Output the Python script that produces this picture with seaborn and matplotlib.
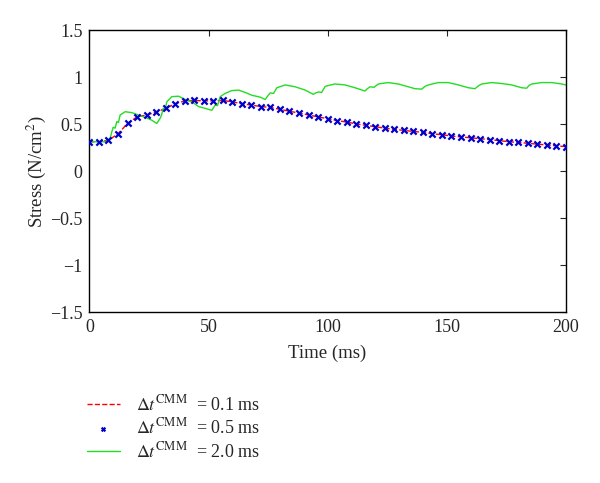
import numpy as np
import pandas as pd
import matplotlib
matplotlib.use("Agg")
import matplotlib.pyplot as plt
import seaborn as sns

# --- Data ---
# dt = 0.1 ms (red dashed) and dt = 0.5 ms (blue x) follow the same curve
t_fine = list(range(0, 201, 4))
stress_fine = [0.315, 0.315, 0.33, 0.40, 0.51, 0.58, 0.60, 0.63, 0.67, 0.72,
               0.75, 0.755, 0.75, 0.75, 0.755, 0.74, 0.72, 0.705, 0.69, 0.68,
               0.66, 0.64, 0.62, 0.60, 0.58, 0.56, 0.54, 0.525, 0.505, 0.49,
               0.475, 0.46, 0.447, 0.436, 0.425, 0.415, 0.40, 0.39, 0.376, 0.367,
               0.357, 0.348, 0.338, 0.327, 0.316, 0.308, 0.299, 0.29, 0.281, 0.272,
               0.263]

# dt = 2.0 ms (green)
t_coarse = [0, 6.6, 8.7, 9.4, 10, 10.8, 11.5, 12.2, 12.9, 15, 17.8, 20.6, 23.4,
            26.2, 28.3, 29.7, 30.3, 31, 31.8, 32.5, 34.6, 37.4, 40.2, 43, 45.8,
            48.6, 51.4, 52.8, 53.8, 54.9, 57, 59.8, 62.6, 65.4, 68.2, 71.7, 73.8,
            74.8, 75.9, 77.3, 78.7, 82.2, 86.4, 90.6, 94, 95, 96.1, 97.5, 99, 103,
            107.3, 111.5, 115.7, 116.7, 117.8, 119.5, 121.3, 125.5, 129.7, 133.9,
            136.7, 139.5, 140.9, 142.3, 146.5, 150.7, 154.9, 159.1, 161.9, 163.3,
            164.7, 168.9, 173.1, 177.3, 181.5, 183.6, 184.6, 185.7, 189.9, 194.1,
            198.3, 200]
stress_coarse = [0.315, 0.315, 0.35, 0.42, 0.47, 0.46, 0.53, 0.52, 0.60, 0.635,
                 0.625, 0.60, 0.575, 0.545, 0.51, 0.565, 0.60, 0.67, 0.66, 0.74,
                 0.795, 0.80, 0.765, 0.74, 0.69, 0.67, 0.65, 0.705, 0.70, 0.795,
                 0.83, 0.86, 0.865, 0.84, 0.81, 0.79, 0.765, 0.80, 0.835, 0.83,
                 0.89, 0.92, 0.90, 0.865, 0.82, 0.835, 0.845, 0.84, 0.905, 0.93,
                 0.92, 0.89, 0.855, 0.88, 0.90, 0.895, 0.93, 0.945, 0.93, 0.90,
                 0.88, 0.875, 0.905, 0.92, 0.945, 0.945, 0.92, 0.89, 0.88, 0.91,
                 0.93, 0.945, 0.935, 0.92, 0.89, 0.885, 0.915, 0.93, 0.945, 0.945,
                 0.93, 0.92]

labels = [r"$\Delta t^{\mathrm{CMM}}$  = 0.1 ms",
          r"$\Delta t^{\mathrm{CMM}}$  = 0.5 ms",
          r"$\Delta t^{\mathrm{CMM}}$  = 2.0 ms"]

# --- Style ---
sns.set_style("white")
plt.rcParams["font.family"] = ["Liberation Serif", "DejaVu Serif"]
plt.rcParams["mathtext.fontset"] = "stix"
plt.rcParams["font.size"] = 13

fig = plt.figure(figsize=(6, 4.83), dpi=100)
ax = fig.add_axes([0.149, 0.3534, 0.794, 0.5836])

fine = pd.DataFrame({"t": t_fine, "s": stress_fine})
coarse = pd.DataFrame({"t": t_coarse, "s": stress_coarse})

sns.lineplot(data=fine, x="t", y="s", ax=ax, color="red", linestyle="--",
             linewidth=1.0, label=labels[0])
sns.scatterplot(data=fine, x="t", y="s", ax=ax, color="#0000cc", marker="x",
                s=20, linewidth=1.6, label=labels[1], zorder=3)
sns.lineplot(data=coarse, x="t", y="s", ax=ax, color="#22dd22",
             linewidth=1.0, label=labels[2])

ax.set_xlim(0, 200)
ax.set_ylim(-1.5, 1.5)
ax.set_xticks([0, 50, 100, 150, 200])
ax.set_yticks([-1.5, -1, -0.5, 0, 0.5, 1, 1.5])
ax.set_yticklabels(["\u22121.5", "\u22121", "\u22120.5", "0", "0.5", "1", "1.5"])
ax.tick_params(direction="in", top=True, right=True, length=4, labelsize=13,
               pad=5)
for sp in ax.spines.values():
    sp.set_color("black")
    sp.set_linewidth(1.0)
ax.set_xlabel("Time (ms)", fontsize=13.5, labelpad=6)
ax.set_ylabel(r"Stress (N/cm$^2$)", fontsize=13.5, labelpad=1)

handles, labs = ax.get_legend_handles_labels()
ax.get_legend().remove()
fig.legend(handles, labs, loc="upper left", bbox_to_anchor=(0.118, 0.218),
           frameon=False, fontsize=13, handlelength=1.8, labelspacing=0.2,
           handletextpad=0.9, markerscale=0.6)

fig.savefig("out.png", dpi=100)
